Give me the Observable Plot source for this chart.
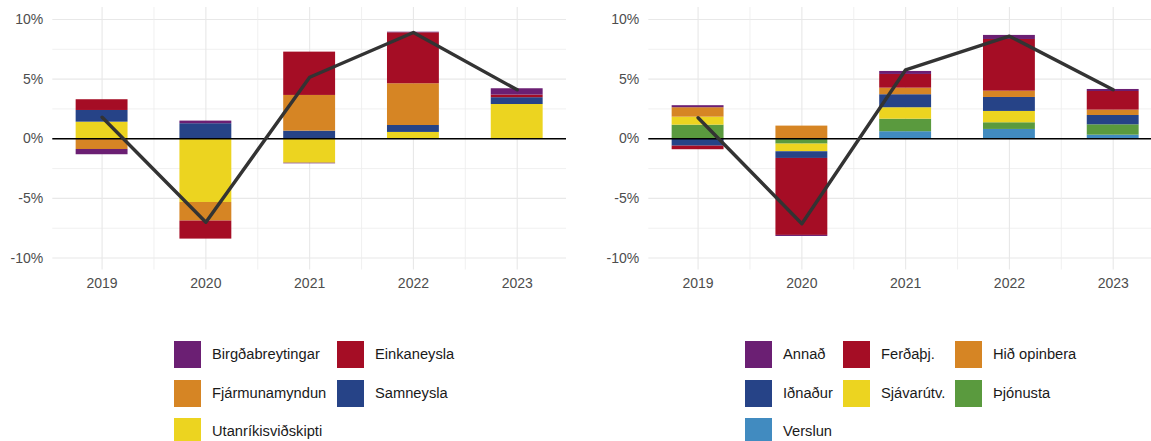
<!DOCTYPE html>
<html>
<head>
<meta charset="utf-8">
<script src="https://cdn.jsdelivr.net/npm/d3@7"></script>
<script src="https://cdn.jsdelivr.net/npm/@observablehq/plot@0.6"></script>
<style>
  html, body { margin: 0; padding: 0; background: #fff; }
  #wrap { position: relative; width: 1151px; height: 441px; overflow: hidden; font-family: "Liberation Sans", Arial, sans-serif; }
  .panel { position: absolute; top: 0; }
  .legend { position: absolute; display: grid; grid-auto-rows: 38.5px; }
  .item { display: flex; align-items: flex-start; font-size: 14.7px; color: #1a1a1a; white-space: nowrap; }
  .sw { width: 27px; height: 27px; margin-right: 11px; flex: none; }
  .item span { line-height: 27px; }
</style>
</head>
<body>
<div id="wrap"></div>
<script>
// ---------- data ----------
const years = [2019, 2020, 2021, 2022, 2023];
const yTicks = [-10, -5, 0, 5, 10];
const yMinor = [-7.5, -2.5, 2.5, 7.5];

// Left panel: expenditure side
const leftCategories = ["Birgðabreytingar", "Einkaneysla", "Fjármunamyndun", "Samneysla", "Utanríkisviðskipti"];
const leftColors = ["#6b1f73", "#a50d25", "#d68524", "#264387", "#ecd420"];
const leftStackOrder = ["Utanríkisviðskipti", "Samneysla", "Fjármunamyndun", "Einkaneysla", "Birgðabreytingar"];
const utanrikisvidskipti = [1.39, -5.34, -2.05, 0.53, 2.87];
const samneysla = [0.98, 1.26, 0.64, 0.58, 0.57];
const fjarmunamyndun = [-0.90, -1.56, 2.99, 3.50, -0.03];
const einkaneysla = [0.90, -1.51, 3.63, 4.27, 0.22];
const birgdabreytingar = [-0.44, 0.22, -0.05, 0.05, 0.53];
const leftTotal = [1.8, -7.0, 5.15, 8.9, 4.1];

// Right panel: by industry
const rightCategories = ["Annað", "Ferðaþj.", "Hið opinbera", "Iðnaður", "Sjávarútv.", "Þjónusta", "Verslun"];
const rightColors = ["#6b1f73", "#a50d25", "#d68524", "#264387", "#ecd420", "#5a9a3e", "#418bc0"];
const rightStackOrder = ["Verslun", "Þjónusta", "Sjávarútv.", "Iðnaður", "Hið opinbera", "Ferðaþj.", "Annað"];
const verslun = [0, 0, 0.59, 0.78, 0.30];
const thjonusta = [1.14, -0.45, 1.05, 0.56, 0.87];
const sjavarutv = [0.67, -0.64, 0.96, 0.95, 0];
const idnadur = [-0.62, -0.56, 1.09, 1.17, 0.78];
const hidOpinbera = [0.79, 1.06, 0.55, 0.53, 0.45];
const ferdathj = [-0.30, -6.45, 1.15, 4.33, 1.56];
const annad = [0.17, -0.09, 0.25, 0.34, 0.17];
const rightTotal = [1.76, -7.12, 5.78, 8.6, 4.1];

// ---------- build tables ----------
const leftSeries = {
  "Utanríkisviðskipti": utanrikisvidskipti, "Samneysla": samneysla, "Fjármunamyndun": fjarmunamyndun,
  "Einkaneysla": einkaneysla, "Birgðabreytingar": birgdabreytingar
};
const rightSeries = {
  "Verslun": verslun, "Þjónusta": thjonusta, "Sjávarútv.": sjavarutv, "Iðnaður": idnadur,
  "Hið opinbera": hidOpinbera, "Ferðaþj.": ferdathj, "Annað": annad
};
function rows(order, series) {
  const out = [];
  for (const cat of order) years.forEach((year, i) => out.push({year, cat, value: series[cat][i]}));
  return out;
}
function lineRows(vals) { return years.map((year, i) => ({year, value: vals[i]})); }

const xMid = years.slice(1).map((y) => y - 0.5);
const font = "'Liberation Sans', Arial, sans-serif";
const halfBar = 0.25;
const xPad = 0.475;

function panel(data, total, cats, colors, opts) {
  return Plot.plot({
    width: opts.width, height: 300,
    marginLeft: opts.marginLeft, marginRight: opts.marginRight, marginTop: 7, marginBottom: 30.5,
    style: {fontFamily: font, fontSize: "14px", color: "#4d4d4d", background: "transparent"},
    x: {domain: [years[0] - xPad, years[years.length - 1] + xPad]},
    y: {domain: [-11, 11]},
    color: {domain: cats, range: colors},
    marks: [
      Plot.ruleY(yMinor, {stroke: "#ececec", strokeWidth: 0.8}),
      Plot.ruleY(yTicks, {stroke: "#e8e8e8", strokeWidth: 1.1}),
      Plot.ruleX(xMid, {stroke: "#ececec", strokeWidth: 0.8}),
      Plot.ruleX(years, {stroke: "#e8e8e8", strokeWidth: 1.1}),
      Plot.rectY(data, Plot.stackY({
        x1: (d) => d.year - halfBar, x2: (d) => d.year + halfBar,
        y: "value", fill: "cat"
      })),
      Plot.ruleY([0], {stroke: "#000", strokeWidth: 1.4}),
      Plot.line(total, {x: "year", y: "value", stroke: "#333333", strokeWidth: 3.4}),
      Plot.axisY({ticks: yTicks, tickSize: 0, tickPadding: 9.6, tickFormat: (d) => `${d}%`, label: null, fontSize: 14}),
      Plot.axisX({ticks: years, tickSize: 0, tickPadding: 8.5, tickFormat: (d) => String(d), label: null, fontSize: 14})
    ]
  });
}

const wrap = document.getElementById("wrap");

const left = panel(rows(leftStackOrder, leftSeries), lineRows(leftTotal), leftCategories, leftColors,
  {width: 576, marginLeft: 52.3, marginRight: 10});
left.classList.add("panel");
left.style.left = "0px";
wrap.appendChild(left);

const right = panel(rows(rightStackOrder, rightSeries), lineRows(rightTotal), rightCategories, rightColors,
  {width: 600, marginLeft: 72.3, marginRight: 14});
right.classList.add("panel");
right.style.left = "576px";
wrap.appendChild(right);

// ---------- legends ----------
function legend(cats, colors, left, cols) {
  const div = document.createElement("div");
  div.className = "legend";
  div.style.left = left + "px";
  div.style.top = "341px";
  div.style.gridTemplateColumns = cols;
  cats.forEach((c, i) => {
    const it = document.createElement("div");
    it.className = "item";
    const sw = document.createElement("div");
    sw.className = "sw";
    sw.style.background = colors[i];
    const t = document.createElement("span");
    t.textContent = c;
    it.appendChild(sw); it.appendChild(t);
    div.appendChild(it);
  });
  wrap.appendChild(div);
}
legend(leftCategories, leftColors, 174, "163px auto");
legend(rightCategories, rightColors, 745, "98px 112px auto");
</script>
</body>
</html>
